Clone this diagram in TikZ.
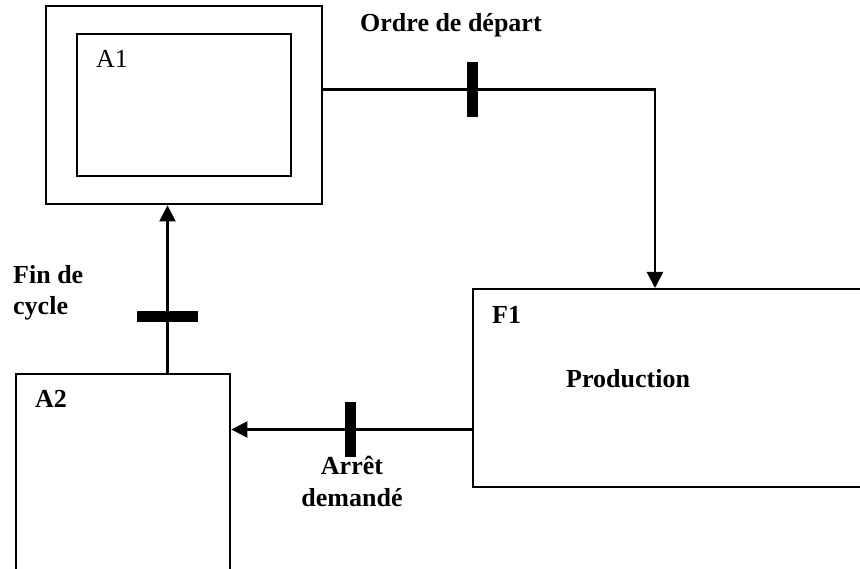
\documentclass[tikz,border=0pt]{standalone}
\usepackage{fontspec}
\setmainfont{Liberation Serif}
\usetikzlibrary{arrows.meta}
\tikzset{
  box/.style={draw, line width=2.4pt, inner sep=0pt, anchor=north west},
  bar/.style={fill=black, draw=none, inner sep=0pt},
  arr/.style={draw=black, line width=2.4pt, -{Triangle[length=16pt,width=16pt]}},
  lbl/.style={inner sep=0pt, anchor=base west, font=\fontsize{26}{31}\selectfont\bfseries},
  lblc/.style={inner sep=0pt, anchor=base, font=\fontsize{26}{31}\selectfont\bfseries}
}
\begin{document}
\begin{tikzpicture}[x=1pt,y=-1pt,line width=2.4pt]
\useasboundingbox (0,0) rectangle (860,569);
\clip (0,0) rectangle (860,569);
% boxes
\node[box, minimum width=276pt, minimum height=198pt] (A1o) at (45,5) {};
\node[box, minimum width=214pt, minimum height=142pt] (A1i) at (76,33) {};
\node[box, minimum width=440pt, minimum height=198pt] (F1) at (472,288) {};
\node[box, minimum width=214pt, minimum height=260pt] (A2) at (15,373) {};
% transition bars
\node[bar, minimum width=11pt, minimum height=55pt] (t1) at (472.5,89.5) {};
\node[bar, minimum width=61pt, minimum height=11pt] (t2) at (167.5,316.5) {};
\node[bar, minimum width=11pt, minimum height=55pt] (t3) at (350.5,429.5) {};
\coordinate (c1) at (655,89.5);
% connectors
\draw[arr] (A1o.east |- t1) -- (c1) -- (c1 |- F1.north);
\draw[arr] (t2 |- A2.north) -- (t2 |- A1o.south);
\draw[arr] (F1.west |- t3) -- (A2.east |- t3);
% labels
\node[inner sep=0pt, anchor=base west, font=\fontsize{26}{31}\selectfont] (lA1) at (95,68) {A1};
\node[lbl] (lod) at (359,32) {Ordre de départ};
\node[lbl] (lfin1) at (12,284) {Fin de};
\node[lbl] (lfin2) at (12,315) {cycle};
\node[lbl] (lF1) at (491,324) {F1};
\node[lbl] (lprod) at (565,388) {Production};
\node[lbl] (lA2) at (34,408) {A2};
\node[lblc] (larr1) at (352,475) {Arrêt};
\node[lblc] (larr2) at (352,506) {demandé};
\end{tikzpicture}
\end{document}
